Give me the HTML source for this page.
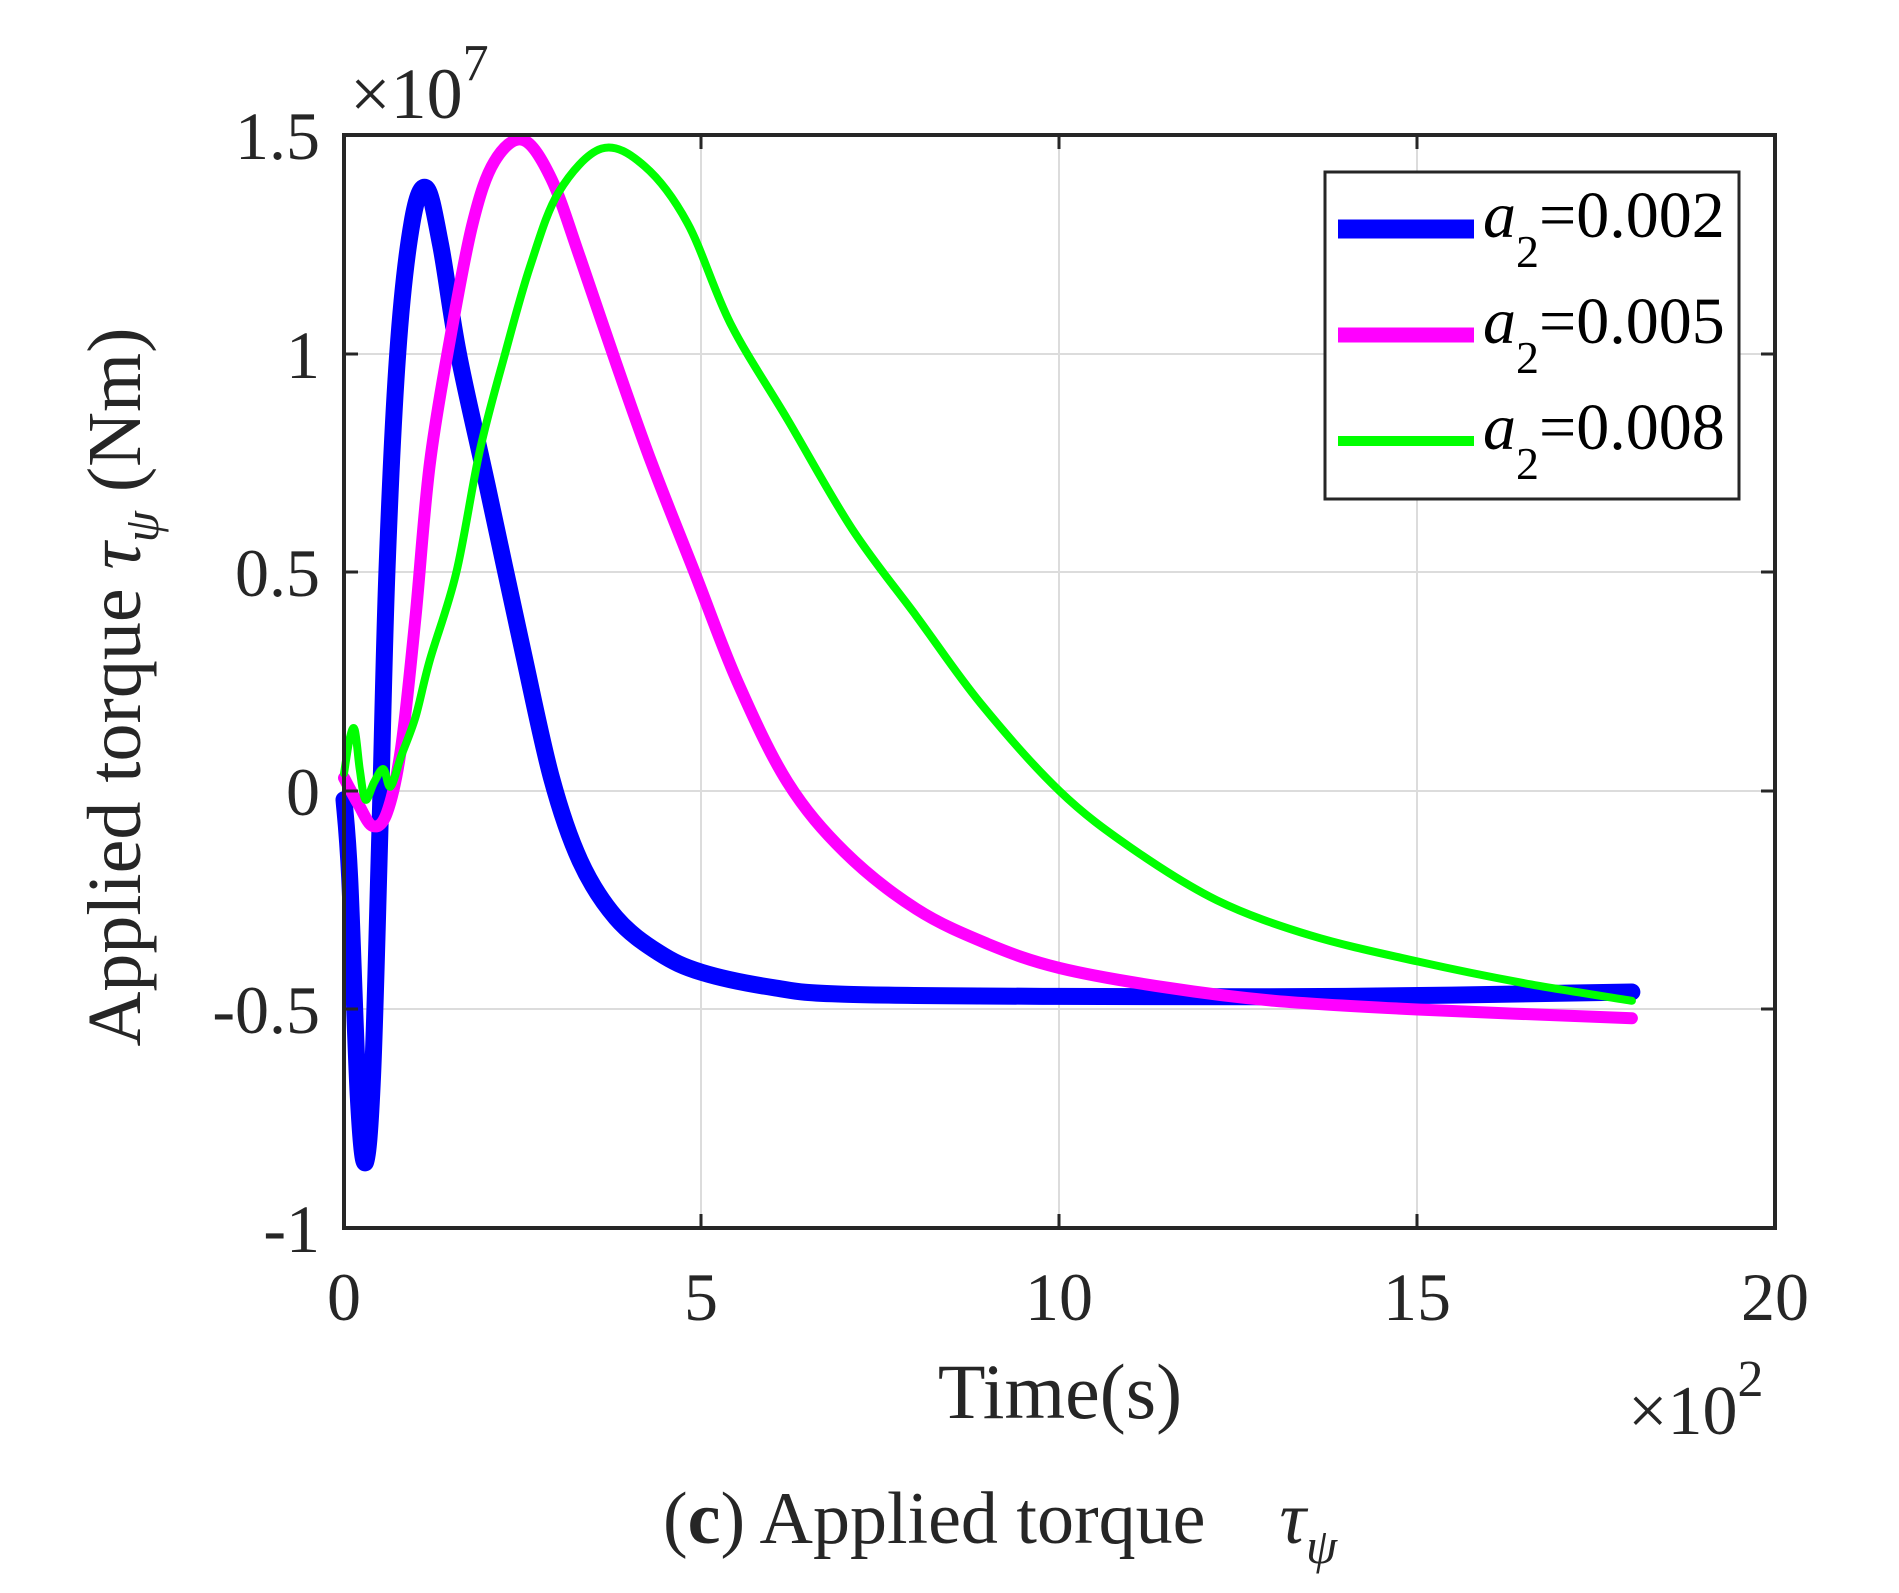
<!DOCTYPE html>
<html><head><meta charset="utf-8"><style>
html,body{margin:0;padding:0;background:#fff;}
svg{display:block;}
text{font-family:"Liberation Serif",serif;fill:#262626;}
</style></head><body>
<svg id="s" width="1899" height="1593" viewBox="0 0 1899 1593" xmlns="http://www.w3.org/2000/svg">
<g stroke="#dcdcdc" stroke-width="2">
<line x1="701" y1="135" x2="701" y2="1228"/>
<line x1="1059" y1="135" x2="1059" y2="1228"/>
<line x1="1417" y1="135" x2="1417" y2="1228"/>
<line x1="344" y1="354" x2="1775" y2="354"/>
<line x1="344" y1="572" x2="1775" y2="572"/>
<line x1="344" y1="791" x2="1775" y2="791"/>
<line x1="344" y1="1009" x2="1775" y2="1009"/>
</g>
<g id="curves" fill="none" stroke-linejoin="round" stroke-linecap="round"></g>
<g stroke="#262626" stroke-width="4" fill="none">
<rect x="344" y="135" width="1431" height="1093"/>
<g stroke-width="3">
<line x1="701" y1="1228" x2="701" y2="1214"/><line x1="1059" y1="1228" x2="1059" y2="1214"/><line x1="1417" y1="1228" x2="1417" y2="1214"/>
<line x1="701" y1="135" x2="701" y2="149"/><line x1="1059" y1="135" x2="1059" y2="149"/><line x1="1417" y1="135" x2="1417" y2="149"/>
<line x1="344" y1="354" x2="358" y2="354"/><line x1="344" y1="572" x2="358" y2="572"/><line x1="344" y1="791" x2="358" y2="791"/><line x1="344" y1="1009" x2="358" y2="1009"/>
<line x1="1775" y1="354" x2="1761" y2="354"/><line x1="1775" y1="572" x2="1761" y2="572"/><line x1="1775" y1="791" x2="1761" y2="791"/><line x1="1775" y1="1009" x2="1761" y2="1009"/>
</g></g>
<g font-size="68" text-anchor="end">
<text x="320" y="159">1.5</text>
<text x="320" y="378">1</text>
<text x="320" y="596">0.5</text>
<text x="320" y="815">0</text>
<text x="320" y="1033">-0.5</text>
<text x="320" y="1252">-1</text>
</g>
<g font-size="68" text-anchor="middle">
<text x="344" y="1320">0</text>
<text x="701" y="1320">5</text>
<text x="1059" y="1320">10</text>
<text x="1417" y="1320">15</text>
<text x="1775" y="1320">20</text>
<text x="1060" y="1418" font-size="78">Time(s)</text>
</g>
<text x="350" y="118" font-size="72">×10<tspan font-size="52" dy="-38">7</tspan></text>
<text x="1628" y="1434" font-size="70">×10<tspan font-size="52" dy="-38">2</tspan></text>
<text transform="translate(140,687) rotate(-90)" font-size="76" text-anchor="middle">Applied torque <tspan font-style="italic">τ</tspan><tspan font-style="italic" font-size="50" dy="18">ψ</tspan><tspan dy="-18"> (Nm)</tspan></text>
<text x="1000" y="1543" font-size="74" text-anchor="middle" xml:space="preserve">(<tspan font-weight="bold">c</tspan>) Applied torque    <tspan font-style="italic">τ</tspan><tspan font-style="italic" font-size="50" dy="20">ψ</tspan></text>
<rect x="1325" y="172" width="414" height="327" fill="#fff" stroke="#262626" stroke-width="3"/>
<line x1="1338" y1="229" x2="1474" y2="229" stroke="#0000ff" stroke-width="19"/>
<line x1="1338" y1="335" x2="1474" y2="335" stroke="#ff00ff" stroke-width="15"/>
<line x1="1338" y1="441" x2="1474" y2="441" stroke="#00ff00" stroke-width="10"/>
<g font-size="66">
<text x="1483" y="237" style="fill:#000"><tspan font-style="italic">a</tspan><tspan font-size="46" dy="30">2</tspan><tspan dy="-30">=0.002</tspan></text>
<text x="1483" y="343" style="fill:#000"><tspan font-style="italic">a</tspan><tspan font-size="46" dy="30">2</tspan><tspan dy="-30">=0.005</tspan></text>
<text x="1483" y="449" style="fill:#000"><tspan font-style="italic">a</tspan><tspan font-size="46" dy="30">2</tspan><tspan dy="-30">=0.008</tspan></text>
</g>
</svg>
<script>
const X=x=>344+71.55*x, Y=y=>791-437*y;
function path(p){
 let d="M"+X(p[0][0]).toFixed(1)+","+Y(p[0][1]).toFixed(1);
 for(let i=0;i<p.length-1;i++){
  const p0=p[Math.max(i-1,0)],p1=p[i],p2=p[i+1],p3=p[Math.min(i+2,p.length-1)];
  const a=[X(p0[0]),Y(p0[1])],b=[X(p1[0]),Y(p1[1])],c=[X(p2[0]),Y(p2[1])],e=[X(p3[0]),Y(p3[1])];
  const c1=[b[0]+(c[0]-a[0])/6,b[1]+(c[1]-a[1])/6],c2=[c[0]-(e[0]-b[0])/6,c[1]-(e[1]-b[1])/6];
  d+="C"+c1.map(v=>v.toFixed(1))+" "+c2.map(v=>v.toFixed(1))+" "+c.map(v=>v.toFixed(1));
 }
 return d;
}
const G=[[0,0.04],[0.08,0.12],[0.15,0.14],[0.22,0.05],[0.3,-0.02],[0.42,0.02],[0.55,0.05],[0.65,0.01],[0.8,0.08],[1.0,0.17],[1.2,0.3],[1.57,0.5],[1.9,0.78],[2.25,1.0],[2.6,1.2],[3.0,1.37],[3.6,1.47],[4.2,1.43],[4.8,1.3],[5.4,1.07],[6.2,0.85],[7.1,0.6],[8,0.4],[8.9,0.2],[10,0.0],[11,-0.13],[12.2,-0.25],[13.5,-0.33],[15,-0.39],[16.5,-0.44],[18,-0.48]];
const M=[[0,0.03],[0.2,-0.03],[0.4,-0.08],[0.6,-0.05],[0.8,0.1],[1.0,0.4],[1.2,0.75],[1.5,1.05],[1.8,1.3],[2.1,1.44],[2.5,1.49],[2.9,1.4],[3.3,1.22],[3.8,0.98],[4.3,0.75],[4.9,0.5],[5.5,0.25],[6.2,0.02],[7,-0.14],[8,-0.27],[9,-0.35],[10,-0.405],[11.5,-0.45],[13,-0.48],[15,-0.5],[18,-0.52]];
const B=[[0,-0.02],[0.08,-0.2],[0.2,-0.7],[0.3,-0.85],[0.4,-0.65],[0.5,-0.1],[0.6,0.5],[0.75,1.0],[0.95,1.3],[1.15,1.38],[1.35,1.25],[1.6,1.0],[2.0,0.7],[2.5,0.32],[2.9,0.03],[3.3,-0.16],[3.8,-0.29],[4.4,-0.37],[5,-0.415],[6,-0.45],[7,-0.465],[10,-0.47],[14,-0.47],[18,-0.46]];
const g=document.getElementById("curves");
[[B,"#0000ff",17],[M,"#ff00ff",12],[G,"#00ff00",8]].forEach(([p,c,w])=>{
 const e=document.createElementNS("http://www.w3.org/2000/svg","path");
 e.setAttribute("d",path(p));e.setAttribute("stroke",c);e.setAttribute("stroke-width",w);g.appendChild(e);
});
</script>
</body></html>
